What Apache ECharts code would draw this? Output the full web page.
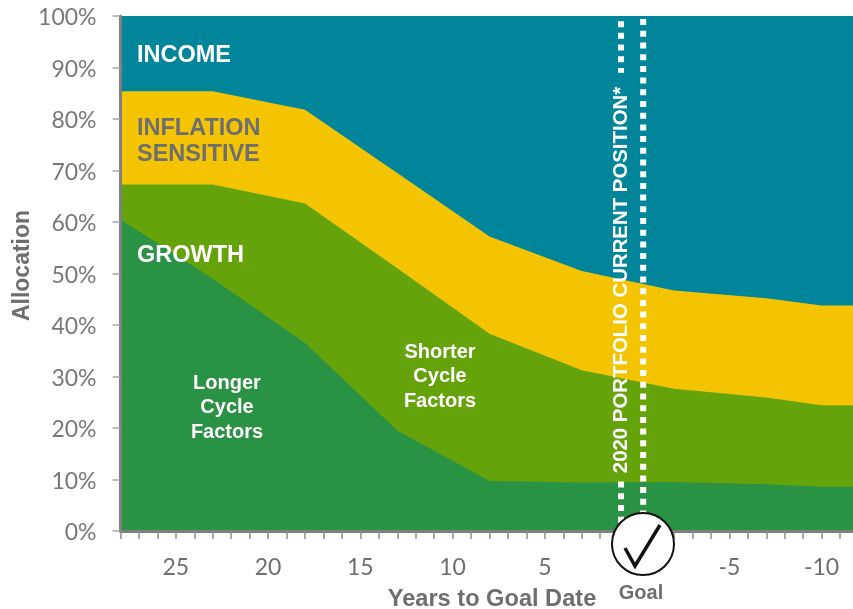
<!DOCTYPE html>
<html>
<head>
<meta charset="utf-8">
<style>html,body{margin:0;padding:0;background:#fff;overflow:hidden}#chart{width:853px;height:609px}</style>
<script src="https://cdn.jsdelivr.net/npm/echarts@6/dist/echarts.min.js"></script>
</head>
<body>
<div id="chart"></div>
<script>
// years to goal date, read at the knots of the glide path
var years = [28, 23, 18, 13, 8, 3, -2, -7, -10, -12];
// upper edge of each band, in % of allocation
var longerTop = [60.5, 49, 36.5, 19.5, 9.7, 9.4, 9.5, 9.1, 8.6, 8.6];
var shorterTop = [67.3, 67.3, 63.6, 51, 38.3, 31.2, 27.6, 25.9, 24.4, 24.4];
var inflationTop = [85.4, 85.4, 81.8, 69.5, 57.2, 50.5, 46.7, 45.2, 43.8, 43.8];
var incomeTop = [100, 100, 100, 100, 100, 100, 100, 100, 100, 100];
var xLabels = [25, 20, 15, 10, 5, -5, -10];
var leftLineX = 0.87;
var rightLineX = -0.33;

var grey = '#6d6e71';
var bandFont = 'Liberation Sans';

// no stack here, on two value axes echarts stacks along x. bands paint back to front
function band(name, values, color, z){
    return {
        name: name,
        type: 'line',
        symbol: 'none',
        z: z,
        lineStyle: {width: 0},
        areaStyle: {color: color, opacity: 1},
        data: years.map(function(y, i){ return [y, values[i]]; })
    };
}

function dots(x, from, to){
    return {
        type: 'line',
        symbol: 'none',
        silent: true,
        z: 7,
        lineStyle: {color: '#fff', width: 6, type: [6, 5.7], cap: 'butt'},
        data: [[x, from], [x, to]]
    };
}

function label(text, x, y, size, color, extra){
    var style = {
        text: text, x: x, y: y, fill: color,
        font: 'bold ' + size + 'px "' + bandFont + '"',
        textAlign: 'left', textVerticalAlign: 'middle', lineHeight: 26
    };
    for(var k in (extra || {})){ style[k] = extra[k]; }
    return {type: 'text', z: 10, style: style};
}

var option = {
    animation: false,
    backgroundColor: '#fff',
    grid: {left: 120.5, top: 16, width: 738, height: 515, outerBoundsMode: 'none'},
    xAxis: {
        type: 'value',
        inverse: true,
        min: -12,
        max: 28,
        interval: 1,
        z: 8,
        name: 'Years to Goal Date',
        nameLocation: 'middle',
        nameGap: 56,
        nameTextStyle: {color: grey, fontFamily: bandFont, fontWeight: 'bold', fontSize: 23.6, padding: [0, 0, 0, 5]},
        axisLine: {onZero: false, lineStyle: {color: '#7f7f7f', width: 3}},
        axisTick: {length: 8, lineStyle: {color: '#8c8c8c', width: 1.5}},
        axisLabel: {
            color: grey, fontFamily: 'Lato', fontSize: 23, margin: 25,
            formatter: function(v){ return xLabels.indexOf(v) >= 0 ? String(v) : ''; }
        },
        splitLine: {show: false}
    },
    yAxis: {
        type: 'value',
        min: 0,
        max: 100,
        interval: 10,
        z: 8,
        name: 'Allocation',
        nameLocation: 'middle',
        nameGap: 86,
        nameMoveOverlap: false,
        nameTextStyle: {color: grey, fontFamily: bandFont, fontWeight: 'bold', fontSize: 23, padding: [0, 0, 0, 16]},
        axisLine: {show: true, onZero: false, lineStyle: {color: '#7f7f7f', width: 3}},
        axisTick: {show: true, length: 8, lineStyle: {color: '#a6a6a6', width: 1.5}},
        axisLabel: {color: '#77787b', fontFamily: 'Lato', fontSize: 23, margin: 24, verticalAlign: 'top', lineHeight: 4, formatter: '{value}%'},
        splitLine: {show: false}
    },
    series: [
        band('Income', incomeTop, '#00859b', 2),
        band('Inflation Sensitive', inflationTop, '#f5c400', 3),
        band('Shorter Cycle Factors', shorterTop, '#65a30a', 4),
        band('Longer Cycle Factors', longerTop, '#2a9245', 5),
        dots(leftLineX, 99, 89),
        dots(leftLineX, 9.6, 0),
        dots(rightLineX, 99.4, 0)
    ],
    graphic: [
        label('INCOME', 137, 56, 23.5, '#fff'),
        label('INFLATION\nSENSITIVE', 137, 142, 23.5, grey),
        label('GROWTH', 137, 256, 23.5, '#fff'),
        label('Longer\nCycle\nFactors', 227, 407.5, 20, '#fff', {textAlign: 'center', lineHeight: 24.5}),
        label('Shorter\nCycle\nFactors', 440, 376.5, 20, '#fff', {textAlign: 'center', lineHeight: 24.5}),
        {
            type: 'text', z: 10, rotation: Math.PI / 2, x: 621, y: 280,
            style: {
                text: '2020 PORTFOLIO CURRENT POSITION*', fill: '#fff',
                font: 'bold 20.4px "' + bandFont + '"',
                textAlign: 'center', textVerticalAlign: 'middle'
            }
        },
        {
            type: 'circle', z: 11, shape: {cx: 643, cy: 544, r: 31},
            style: {fill: '#fff', stroke: '#111', lineWidth: 2}
        },
        {
            type: 'polyline', z: 12, shape: {points: [[625, 548], [635, 566], [660, 525]]},
            style: {fill: null, stroke: '#111', lineWidth: 3.5}
        },
        label('Goal', 641, 593, 20, grey, {textAlign: 'center'})
    ]
};

var chart = echarts.init(document.getElementById('chart'));
chart.setOption(option);
</script>
</body>
</html>
